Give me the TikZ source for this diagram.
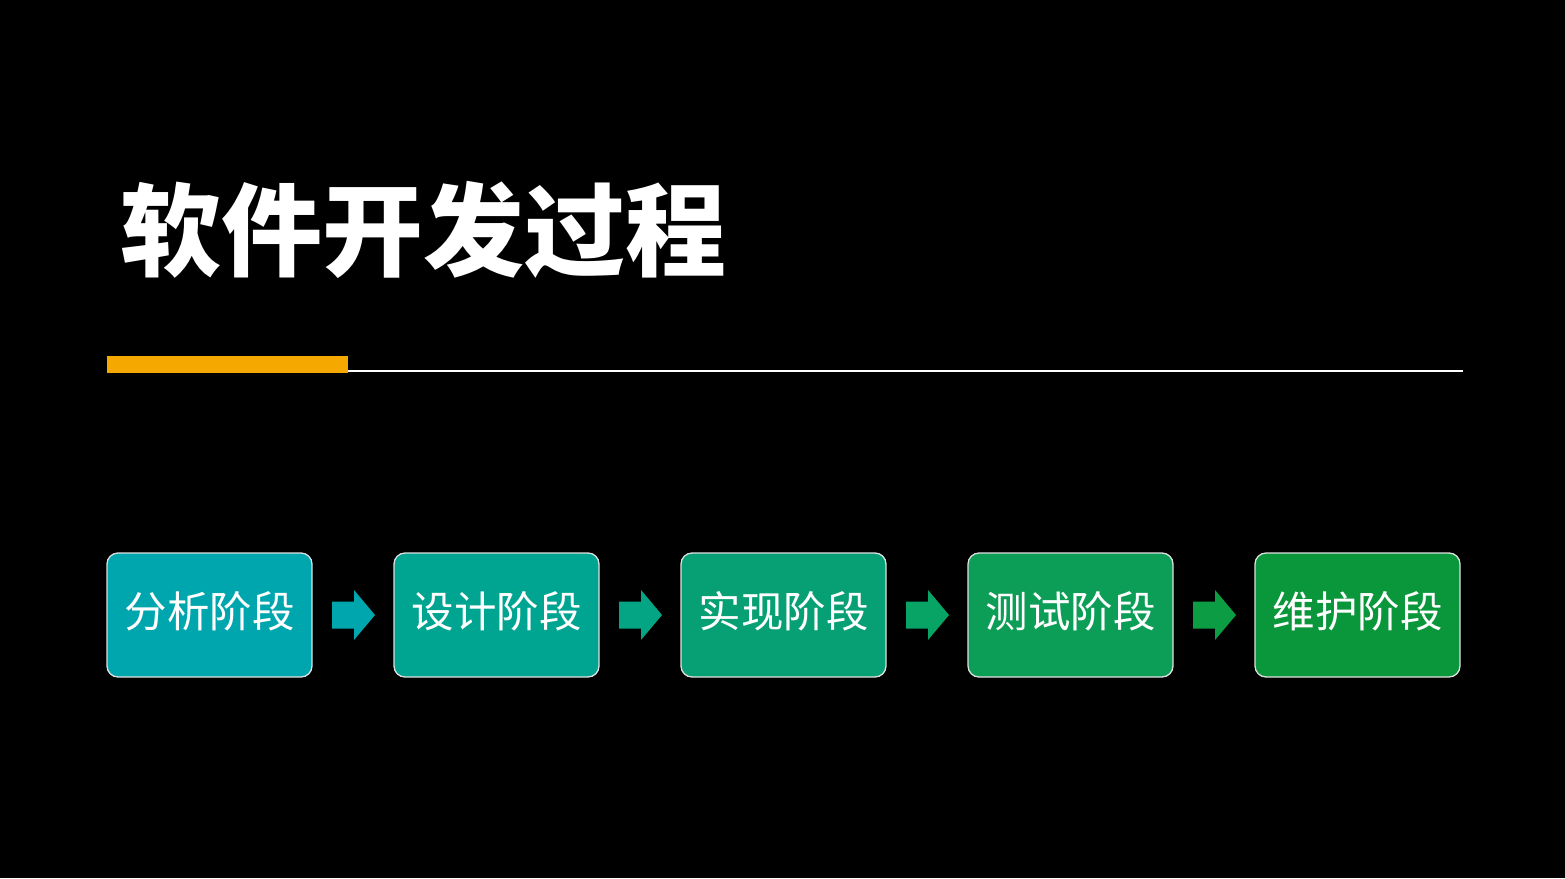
\documentclass[tikz,border=0pt]{standalone}
\usepackage{fontspec}
\newfontfamily\cjk{Noto Sans CJK SC}
\usepackage{tikz}
\usetikzlibrary{positioning,calc}
\definecolor{barorange}{HTML}{F5A800}
\definecolor{phaseA}{HTML}{00A6AE}
\definecolor{phaseB}{HTML}{00A591}
\definecolor{phaseC}{HTML}{07A074}
\definecolor{phaseD}{HTML}{0C9E56}
\definecolor{phaseE}{HTML}{0A963A}
\definecolor{arrA}{HTML}{00A6AE}
\definecolor{arrB}{HTML}{04A585}
\definecolor{arrC}{HTML}{08A466}
\definecolor{arrD}{HTML}{0C9C44}
\newcommand\phlabel[1]{\raisebox{3.5pt}[\height][\depth]{#1}}
\tikzset{
  phase/.style={rectangle,draw=black!12,line width=1.3pt,rounded corners=11pt,
                minimum width=205pt,minimum height=124pt,inner sep=0pt,outer sep=0pt,
                text=white,font=\cjk\fontsize{42.5}{48}\selectfont},
  title/.style={anchor=west,inner sep=0pt,text=white,
                font=\cjk\bfseries\fontsize{101}{110}\selectfont},
}
\begin{document}
\begin{tikzpicture}[x=1pt,y=-1pt]
    \fill[black] (0,0) rectangle (1565,878);
    \useasboundingbox (0,0) rectangle (1565,878);

    \node[title] (head) at (120,230) {软件开发过程};

    % rule under the title
    \coordinate (ruleL) at (107,371);
    \coordinate (ruleR) at (1463,371);
    \draw[white,line width=1.6pt] (ruleL) -- (ruleR);
    \fill[barorange] (107,356) rectangle (348,373);

    \node[phase,fill=phaseA] (s1) at (209.5,615) {\phlabel{分析阶段}};
    \node[phase,fill=phaseB,right=82pt of s1] (s2) {\phlabel{设计阶段}};
    \node[phase,fill=phaseC,right=82pt of s2] (s3) {\phlabel{实现阶段}};
    \node[phase,fill=phaseD,right=82pt of s3] (s4) {\phlabel{测试阶段}};
    \node[phase,fill=phaseE,right=82pt of s4] (s5) {\phlabel{维护阶段}};

    \foreach \a/\c in {s1/arrA,s2/arrB,s3/arrC,s4/arrD}{
      \fill[\c] ($(\a.east)+(20,-13.5)$) -- ++(22,0) -- ++(0,-11.5)
        -- ++(21,25) -- ++(-21,25) -- ++(0,-11.5) -- ++(-22,0) -- cycle;
    }
  \end{tikzpicture}
\end{document}
